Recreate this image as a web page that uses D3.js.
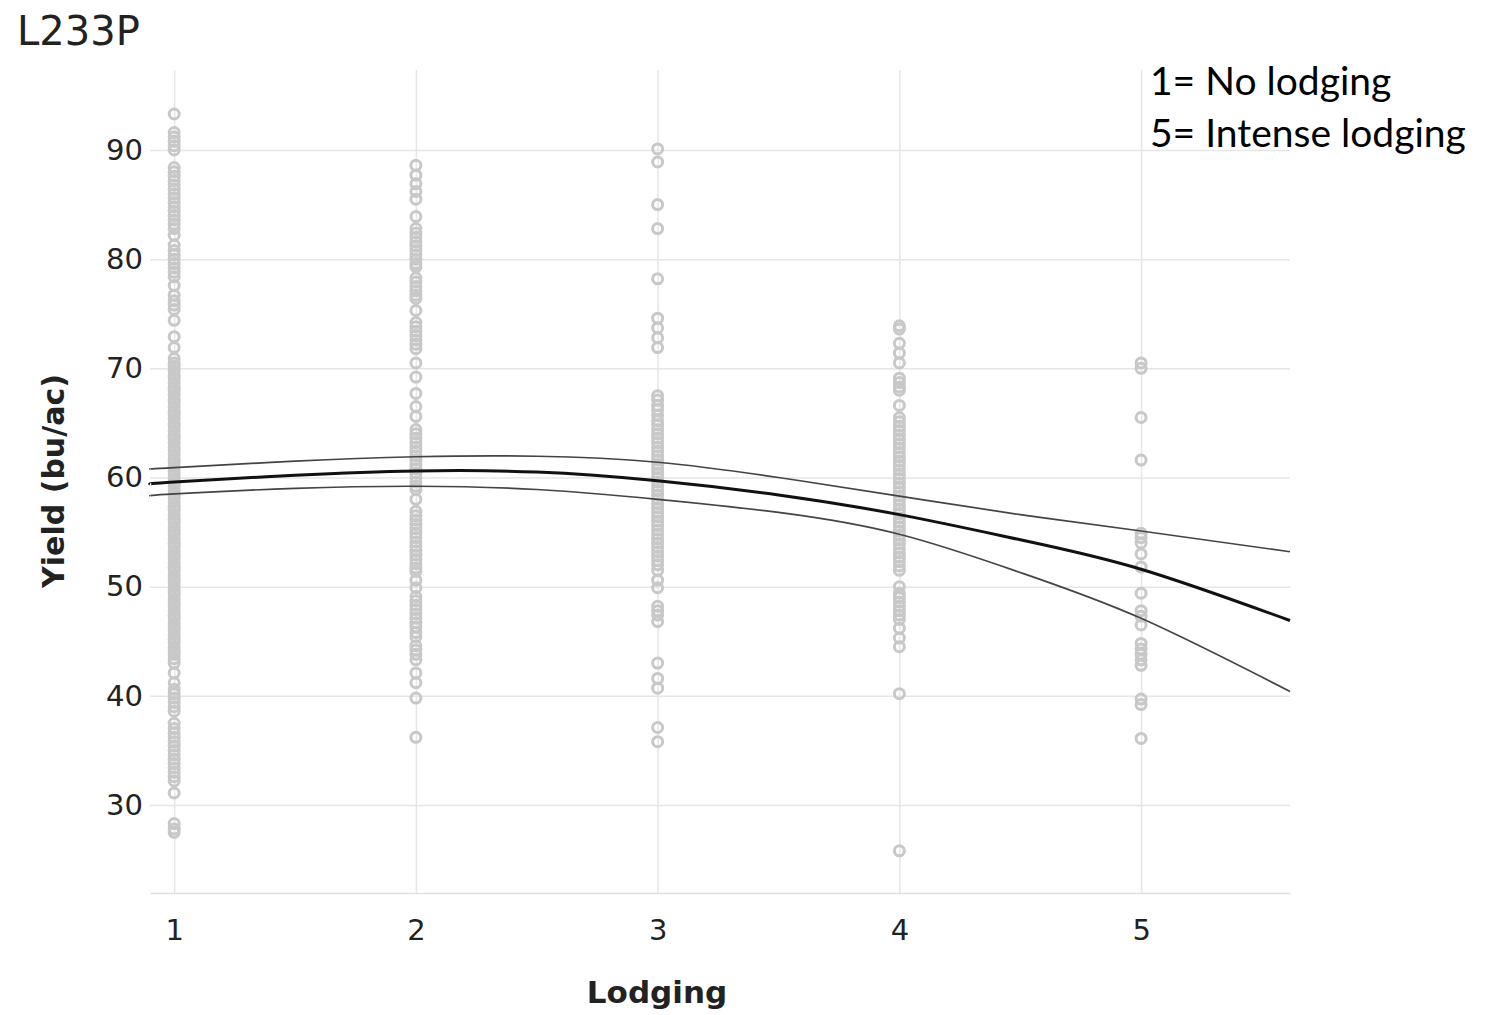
<!DOCTYPE html>
<html>
<head>
<meta charset="utf-8">
<script src="https://cdn.jsdelivr.net/npm/d3@7"></script>
<style>
  html,body{margin:0;padding:0;background:#fff;}
  svg{display:block;}
</style>
</head>
<body>
<div id="chart"></div>
<script>
// yield vs lodging score, one array of readings per lodging class
const lodging1 = [93.3, 91.6, 91.2, 90.8, 90.4, 90.0,
  88.4, 88.0, 87.6, 87.2, 86.8, 86.4, 86.0, 85.6, 85.2, 84.8, 84.4, 84.0, 83.6, 83.2, 82.8, 82.2, 81.3,
  80.8, 80.4, 80.0, 79.6, 79.2, 78.8, 78.4, 77.6, 76.7, 76.2, 75.8, 75.4, 74.4, 72.9, 71.9,
  70.9, 70.5, 70.2, 69.8, 69.4, 69.1, 68.7, 68.3, 68.0, 67.6, 67.2, 66.9, 66.5, 66.1, 65.8, 65.4, 65.0,
  64.7, 64.3, 63.9, 63.6, 63.2, 62.8, 62.5, 62.1, 61.7, 61.4, 61.0, 60.6, 60.3, 59.9, 59.5, 59.2, 58.8,
  58.4, 58.1, 57.7, 57.3, 57.0, 56.6, 56.2, 55.9, 55.5, 55.1, 54.8, 54.4, 54.0, 53.7, 53.3, 52.9, 52.6,
  52.2, 51.8, 51.5, 51.1, 50.7, 50.4, 50.0, 49.6, 49.3, 48.9, 48.5, 48.2, 47.8, 47.4, 47.1, 46.7, 46.3,
  46.0, 45.6, 45.2, 44.9, 44.5, 44.1, 43.8, 43.4, 43.0, 42.1, 41.2, 40.6, 40.2, 39.8, 39.4, 39.0, 38.6,
  37.5, 37.0, 36.6, 36.2, 35.8, 35.4, 35.0, 34.6, 34.2, 33.8, 33.4, 33.0, 32.6, 32.2, 31.1, 28.3, 27.8, 27.5];
const lodging2 = [88.6, 87.7, 86.9, 86.2, 85.5, 83.9, 82.8, 82.4, 82.0, 81.6, 81.2, 80.8, 80.4, 80.0, 79.6, 79.3,
  78.3, 77.9, 77.5, 77.1, 76.7, 76.4, 75.3, 74.2, 73.8, 73.4, 73.0, 72.6, 72.2, 71.8, 70.5, 69.2, 67.7, 66.5,
  65.6, 64.4, 64.0, 63.6, 63.2, 62.8, 62.4, 62.0, 61.6, 61.2, 60.8, 60.4, 60.0, 59.6, 59.2, 58.9, 58.0,
  56.9, 56.5, 56.1, 55.7, 55.3, 54.9, 54.5, 54.1, 53.7, 53.3, 52.9, 52.5, 52.1, 51.7, 51.4, 50.6, 49.9,
  49.1, 48.7, 48.3, 47.9, 47.5, 47.1, 46.7, 46.3, 45.8, 45.4, 44.6, 44.2, 43.8, 43.3, 42.1, 41.2, 39.8, 36.2];
const lodging3 = [90.1, 88.9, 85.0, 82.8, 78.2, 74.6, 73.7, 72.8, 71.9, 67.5, 67.1, 66.6, 66.2, 65.7, 65.2,
  64.8, 64.4, 64.0, 63.6, 63.2, 62.8, 62.4, 62.0, 61.6, 61.2, 60.8, 60.4, 60.0, 59.6, 59.2, 58.8, 58.4,
  58.0, 57.6, 57.2, 56.8, 56.4, 56.0, 55.6, 55.2, 54.8, 54.4, 54.0, 53.6, 53.2, 52.8, 52.4, 52.0, 51.5,
  50.6, 49.9, 48.2, 47.8, 47.4, 46.8, 43.0, 41.6, 40.7, 37.1, 35.8];
const lodging4 = [73.9, 73.6, 72.3, 71.4, 70.5, 69.1, 68.7, 68.3, 68.0, 66.6, 65.5, 65.1, 64.7, 64.3, 63.9,
  63.5, 63.1, 62.7, 62.3, 61.9, 61.5, 61.1, 60.7, 60.3, 59.9, 59.5, 59.1, 58.7, 58.3, 57.9, 57.5, 57.1,
  56.7, 56.3, 55.9, 55.5, 55.1, 54.7, 54.3, 53.9, 53.5, 53.1, 52.7, 52.3, 51.9, 51.5, 50.0, 49.4, 49.0,
  48.6, 48.2, 47.8, 47.4, 47.0, 46.2, 45.3, 44.5, 40.2, 25.8];
const lodging5 = [70.5, 70.0, 65.5, 61.6, 54.9, 54.5, 54.0, 53.0, 51.8, 49.4, 47.8, 47.3, 46.5, 44.8, 44.3,
  43.8, 43.3, 42.8, 39.7, 39.2, 36.1];
const groups = [1, 2, 3, 4, 5];
const groupYields = [lodging1, lodging2, lodging3, lodging4, lodging5];

// quadratic fit and its confidence band
const fitX   = [0.9, 1, 1.5, 2, 2.5, 3, 3.5, 4, 4.5, 5, 5.616];
const fitY   = [59.4, 59.6, 60.2, 60.6, 60.5, 59.7, 58.4, 56.6, 54.3, 51.6, 46.9];
const upperY = [60.8, 60.9, 61.5, 61.9, 61.95, 61.4, 60.0, 58.3, 56.6, 55.1, 53.2];
const lowerY = [58.3, 58.5, 59.0, 59.2, 58.9, 58.0, 56.8, 54.8, 51.3, 47.1, 40.4];

const yTicks = [30, 40, 50, 60, 70, 80, 90];
const xTicks = [1, 2, 3, 4, 5];
const legendLines = ['1= No lodging', '5= Intense lodging'];

const W = 1491, H = 1015;
const svg = d3.select('#chart').append('svg').attr('width', W).attr('height', H);
svg.append('rect').attr('width', W).attr('height', H).attr('fill', '#fff');

const x = d3.scaleLinear().domain([0.9, 5.616]).range([150, 1290]);
const y = d3.scaleLinear().domain([21.94, 97.33]).range([893, 70]);

const font = '"DejaVu Sans", Verdana, sans-serif';

// grid + y axis
svg.append('g').attr('transform', 'translate(150,0)')
  .call(d3.axisLeft(y).tickValues(yTicks).tickSize(-(1290 - 150)).tickSizeOuter(0).tickPadding(7))
  .call(g => g.select('.domain').remove())
  .call(g => g.selectAll('line').attr('stroke', '#e6e6e6').attr('stroke-width', 1.5))
  .call(g => g.selectAll('text').attr('font-family', font).attr('font-size', 29).attr('fill', '#222'));

// vertical grid + x axis
svg.append('g').attr('transform', 'translate(0,893)')
  .call(d3.axisBottom(x).tickValues(xTicks).tickSize(-(893 - 70)).tickSizeOuter(0).tickPadding(26).tickFormat(d3.format('d')))
  .call(g => g.select('.domain').attr('stroke', '#e0e0e0').attr('stroke-width', 1.5))
  .call(g => g.selectAll('line').attr('stroke', '#e6e6e6').attr('stroke-width', 1.5))
  .call(g => g.selectAll('text').attr('font-family', font).attr('font-size', 29).attr('fill', '#222'));

// points
const pts = [];
groups.forEach((k, i) => groupYields[i].forEach(v => pts.push({k, v})));
svg.append('g').selectAll('circle').data(pts).join('circle')
  .attr('cx', d => x(d.k)).attr('cy', d => y(d.v)).attr('r', 5)
  .attr('fill', 'none').attr('stroke', '#c8c8c8').attr('stroke-width', 3);

// fitted curve and band
const mk = ys => d3.line().x((d, i) => x(fitX[i])).y(d => y(d)).curve(d3.curveNatural)(ys);
svg.append('path').attr('d', mk(upperY)).attr('fill', 'none').attr('stroke', '#444').attr('stroke-width', 1.7);
svg.append('path').attr('d', mk(lowerY)).attr('fill', 'none').attr('stroke', '#444').attr('stroke-width', 1.7);
svg.append('path').attr('d', mk(fitY)).attr('fill', 'none').attr('stroke', '#111').attr('stroke-width', 3);

// titles
svg.append('text').attr('x', 17).attr('y', 45).attr('font-family', font).attr('font-size', 40)
  .attr('fill', '#222').text('L233P');
svg.append('text').attr('transform', 'translate(64,481) rotate(-90)').attr('text-anchor', 'middle')
  .attr('font-family', font).attr('font-weight', 'bold').attr('font-size', 30).attr('fill', '#222')
  .text('Yield (bu/ac)');
svg.append('text').attr('x', 657).attr('y', 1003).attr('text-anchor', 'middle')
  .attr('font-family', font).attr('font-weight', 'bold').attr('font-size', 31).attr('fill', '#222')
  .text('Lodging');

// legend note
svg.append('g').selectAll('text').data(legendLines).join('text')
  .attr('x', 1150).attr('y', (d, i) => 95 + i * 52)
  .attr('font-family', 'Lato, "Open Sans", sans-serif').attr('font-size', 39).attr('fill', '#000')
  .text(d => d);
</script>
</body>
</html>
